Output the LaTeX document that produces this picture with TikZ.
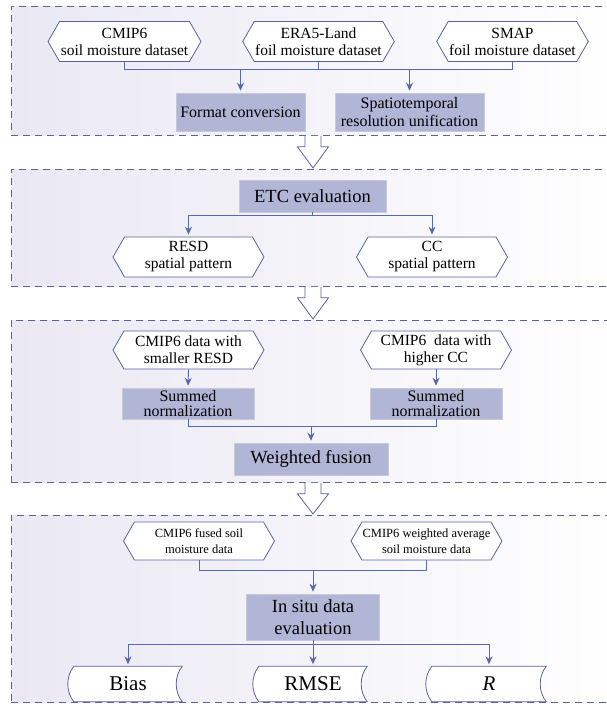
\documentclass[tikz,border=0pt]{standalone}
\usepackage{fontspec}
\setmainfont{Liberation Serif}
\usepackage{tikz}
\usetikzlibrary{shapes.symbols,arrows.meta,positioning,calc,backgrounds}

\definecolor{panelline}{RGB}{88,98,152}
\definecolor{panelfill}{RGB}{234,232,243}
\definecolor{procfill}{RGB}{177,181,214}
\definecolor{procline}{RGB}{200,201,214}
\definecolor{hexline}{RGB}{88,98,160}
\definecolor{flowcol}{RGB}{88,104,172}

\begin{document}
\begin{tikzpicture}[x=1pt, y=-1pt,
  panel/.style={rectangle, draw=panelline, dash pattern=on 7pt off 5pt, line width=0.8pt, left color=panelfill, right color=white, anchor=north west, inner sep=0pt, minimum width=609pt},
  datahex/.style={signal, signal to=east and west, signal pointer angle=120, draw=hexline, line width=0.8pt, fill=white, minimum width=151pt, minimum height=40pt, inner sep=1pt, align=center, font=\fontsize{15.5}{17}\selectfont},
  smallhex/.style={datahex, minimum height=38pt, inner sep=0pt, font=\fontsize{12.5}{16}\selectfont},
  procbox/.style={rectangle, draw=procline, fill=procfill, line width=0.6pt, align=center, inner sep=1pt, font=\fontsize{16}{18}\selectfont},
  bigbox/.style={procbox, font=\fontsize{18.5}{22}\selectfont},
  storebox/.style={rectangle, minimum width=108pt, minimum height=35pt, inner sep=1pt, font=\fontsize{21}{24}\selectfont},
  storeline/.style={draw=hexline, line width=0.8pt, fill=white},
  link/.style={draw=flowcol, line width=0.9pt},
  flow/.style={link, -{Stealth[length=8pt,width=7pt]}, shorten >=2pt},
  hollow/.style={draw=panelline, line width=0.8pt, fill=white}
]
\useasboundingbox (0,0) rectangle (606,707);

% panels
\begin{scope}[on background layer]
\node[panel, minimum height=129pt] (p1) at (11,6) {};
\node[panel, minimum height=117pt] (p2) at (11,169) {};
\node[panel, minimum height=162pt] (p3) at (11,320) {};
\node[panel, minimum height=187pt] (p4) at (11,515) {};
\end{scope}

% hollow arrows between panels
\coordinate (mid) at (313,0);
\foreach \a/\b in {p1/p2,p2/p3,p3/p4}
  \draw[hollow] ($(mid |- \a.south)+(-8,0)$) -- ++(0,11) -- ++(-7.5,0) -- ($(mid |- \b.north)+(0,-1)$) -- ($(mid |- \a.south)+(15.5,11)$) -- ++(-7.5,0) -- ++(0,-11);

% panel 1
\node[datahex, minimum width=153pt] (cmip) at (124.5,41.5) {CMIP6\\soil moisture dataset};
\node[datahex] (era) at (318.5,41.5) {ERA5-Land\\foil moisture dataset};
\node[datahex] (smap) at (512.5,41.5) {SMAP\\foil moisture dataset};
\node[procbox, minimum width=129pt, minimum height=38pt] (fmt) at (240.5,112) {Format conversion};
\node[procbox, minimum width=149pt, minimum height=38pt] (spat) at (409.5,112) {Spatiotemporal\\resolution unification};

\draw[link] (cmip.south) -- ++(0,8) coordinate (j1) -| (smap.south);
\draw[link] (era.south) -- (era.south |- j1);
\draw[flow] (j1 -| fmt) -- (fmt.north);
\draw[flow] (j1 -| spat) -- (spat.north);

% panel 2
\node[bigbox, minimum width=147pt, minimum height=32pt] (etc) at (312.5,196) {ETC evaluation};
\node[datahex] (resd) at (188.5,257) {RESD\\spatial pattern};
\node[datahex] (cc) at (432,257) {CC\\spatial pattern};

\draw[flow] (etc.south) -- ++(0,3) -| (resd.north);
\draw[flow] (etc.south) -- ++(0,3) -| (cc.north);

% panel 3
\node[datahex, minimum height=38pt] (sres) at (188.5,350) {CMIP6 data with\\smaller RESD};
\node[datahex, minimum height=38pt] (shcc) at (436,350) {CMIP6\ \ data with\\higher CC};
\node[procbox, minimum width=132pt, minimum height=31pt, font=\fontsize{16}{15}\selectfont] (suml) at (188,403.5) {Summed\\normalization};
\node[procbox, minimum width=132pt, minimum height=31pt, font=\fontsize{16}{15}\selectfont] (sumr) at (436,403.5) {Summed\\normalization};
\node[bigbox, minimum width=154pt, minimum height=32pt] (wf) at (311,459) {Weighted fusion};

\draw[flow] (sres.south) -- (suml.north);
\draw[flow] (shcc.south) -- (sumr.north);
\draw[link] (suml.south) -- ++(0,7) coordinate (j3) -| (sumr.south);
\draw[flow] (j3 -| wf) -- (wf.north);

% panel 4
\node[smallhex] (fused) at (199,541) {CMIP6 fused soil\\moisture data};
\node[smallhex] (wavg) at (426.5,541) {CMIP6 weighted average\\soil moisture data};
\node[bigbox, minimum width=133pt, minimum height=46pt] (insitu) at (313,617) {In situ data\\evaluation};
\node[storebox] (bias) at (128,684) {Bias};
\node[storebox] (rmse) at (313,684) {RMSE};
\node[storebox, minimum width=114pt] (r) at (489,684) {\textit{R}};

\draw[link] (fused.south) -- ++(0,10) coordinate (j4) -| (wavg.south);
\draw[flow] (j4 -| insitu) -- (insitu.north);
\draw[link] (insitu.south) -- ++(0,4) coordinate (j5);
\draw[flow] (j5) -| (bias.north);
\draw[flow] (j5) -- (rmse.north);
\draw[flow] (j5) -| (r.north);

\begin{scope}[on background layer]
\foreach \n in {bias,rmse,r}
  \draw[storeline] (\n.north west) .. controls ($(\n.north west)+(-8,10)$) and ($(\n.south west)+(-8,-10)$) .. (\n.south west) -- (\n.south east) .. controls ($(\n.south east)+(-8,-10)$) and ($(\n.north east)+(-8,10)$) .. (\n.north east) -- cycle;
\end{scope}
\end{tikzpicture}
\end{document}
